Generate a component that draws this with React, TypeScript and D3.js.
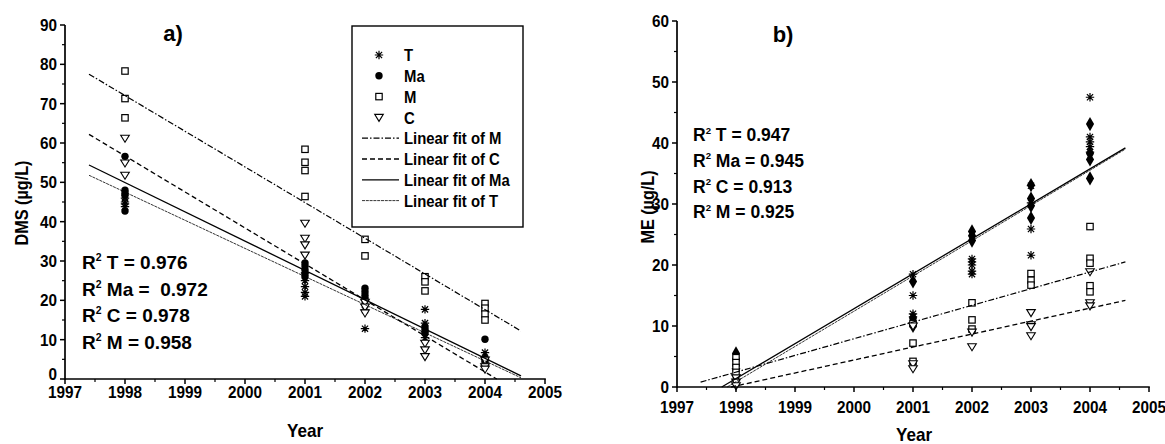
import React from "react";
import * as d3 from "d3";

// ---------- DATA ----------
const years = [1998, 2001, 2002, 2003, 2004];

// Panel a: DMS (µg/L), values per year (same order as `years`)
const dmsT = [[46, 45, 44.5, 43.8], [27, 25, 23.5, 22, 21], [20, 19, 17.5, 12.8], [17.7, 14.2, 12.0, 10.5], [6.7, 5, 4]];
const dmsMa = [[56.6, 48, 47.3, 46.7, 42.7], [29.5, 28.7, 27.8, 26.8, 26], [23.1, 22.2, 21.3, 20.5], [13.3, 12.5, 11.6], [10.1, 5.2, 4.5]];
const dmsM = [[78.3, 71.3, 66.4], [58.4, 55.1, 53.0, 46.4], [35.5, 31.3], [26.0, 24.7, 22.4], [19.2, 18.0, 16.5, 15.0]];
const dmsC = [[61.2, 54.9, 51.8], [39.6, 35.8, 34.1, 31.5], [19.5, 18.3, 16.8], [9.1, 7.4, 5.7], [4.8, 3.1, 2.5]];

// Panel b: ME (µg/L)
const meT = [[3.0, 2.0, 1.0], [18.5, 15.0, 12.0, 11.5], [21.0, 20.5, 20.0, 19.0, 18.5], [33.0, 30.2, 25.9, 21.6], [47.5, 41.0, 40.2, 39.4, 38.5]];
const meMa = [[5.5, 4.6, 3.6], [17.3, 11.3, 10.5, 10.0], [25.5, 24.8, 24.0], [33.1, 30.9, 29.7, 27.7], [43.1, 38.3, 37.3, 34.2]];
const meM = [[4.8, 4.0, 3.2, 2.4], [10.4, 7.2, 4.2], [13.8, 11.0, 9.5], [18.6, 17.5, 16.7], [26.3, 21.1, 20.3, 16.6, 15.6]];
const meC = [[1.5, 0.8, 0.2], [10.0, 3.8, 3.0], [9.0, 6.6], [12.2, 10.2, 9.9, 8.4], [18.9, 13.8, 13.3]];

// Linear fits: value at fitYears[0] and fitYears[1]
const fitYears = [1997.4, 2004.6];
const fitSeries = ["M", "C", "Ma", "T"];
const dmsFitStart = [77.5, 62.2, 54.4, 51.8];
const dmsFitEnd = [12.2, -3.7, 0.8, 0.3];
const meFitStart = [0.8, -1.1, -2.05, -2.6];
const meFitEnd = [20.5, 14.2, 39.2, 39.0];

const dmsR2 = ["R|T = 0.976", "R|Ma =  0.972", "R|C = 0.978", "R|M = 0.958"];
const meR2 = ["R|T = 0.947", "R|Ma = 0.945", "R|C = 0.913", "R|M = 0.925"];

const dmsTicks = [0, 10, 20, 30, 40, 50, 60, 70, 80, 90];
const meTicks = [0, 10, 20, 30, 40, 50, 60];
const yearTicks = [1997, 1998, 1999, 2000, 2001, 2002, 2003, 2004, 2005];

const legendItems = ["T", "Ma", "M", "C", "Linear fit of M", "Linear fit of C", "Linear fit of Ma", "Linear fit of T"];

// ---------- STYLE ----------
const FONT = "Arial, 'Liberation Sans', Helvetica, sans-serif";
const lineStyle: Record<string, { dash: string; width: number }> = {
  M: { dash: "6,2,1.5,2", width: 1.2 },
  C: { dash: "5,3", width: 1.3 },
  Ma: { dash: "", width: 1.3 },
  T: { dash: "3,0.8", width: 0.8 },
};

function Txt({ x, y, size, sx = 1, anchor = "start", rotate = 0, dy, children }: {
  x: number; y: number; size: number; sx?: number; anchor?: string; rotate?: number; dy?: string; children: React.ReactNode;
}) {
  return (
    <text
      transform={`translate(${x},${y})${rotate ? ` rotate(${rotate})` : ""} scale(${sx},1)`}
      textAnchor={anchor}
      dy={dy}
      fontFamily={FONT}
      fontWeight="bold"
      fontSize={size}
      style={{ whiteSpace: "pre" }}
    >
      {children}
    </text>
  );
}

function Marker({ kind, x, y, diamond }: { kind: string; x: number; y: number; diamond?: boolean }) {
  if (kind === "T") {
    const s = 4.2, d = 3.1;
    return (
      <path
        d={`M${x - s},${y}H${x + s}M${x},${y - s}V${y + s}M${x - d},${y - d}L${x + d},${y + d}M${x - d},${y + d}L${x + d},${y - d}`}
        stroke="#000"
        strokeWidth={1.2}
        fill="none"
      />
    );
  }
  if (kind === "Ma") {
    if (diamond) {
      const p = d3.symbol().type(d3.symbolDiamond).size(58)();
      return <path d={p || ""} transform={`translate(${x},${y})`} fill="#000" />;
    }
    return <circle cx={x} cy={y} r={3.7} fill="#000" />;
  }
  if (kind === "M") {
    return <rect x={x - 3.2} y={y - 3.2} width={6.4} height={6.4} fill="#fff" stroke="#000" strokeWidth={1.2} />;
  }
  // C: down triangle
  return (
    <path
      d={`M${x - 4.3},${y - 3}L${x + 4.3},${y - 3}L${x},${y + 4}Z`}
      fill="#fff"
      stroke="#000"
      strokeWidth={1.1}
    />
  );
}

type PanelProps = {
  x0: number; x1: number; y0: number; y1: number; ymax: number; yTicks: number[];
  series: { kind: string; data: number[][] }[];
  fitStart: number[]; fitEnd: number[];
  diamond: boolean; title: string; titleX: number; titleY: number;
  ylabel: string; ylabelX: number; ylabelY: number;
  xlabelX: number; xlabelY: number; xTickOffset: number; zeroShift: number;
  r2: string[]; r2X: number; r2Y: number; r2Step: number; r2Size: number;
};

function Panel(p: PanelProps) {
  const x = d3.scaleLinear().domain([1997, 2005]).range([p.x0, p.x1]);
  const y = d3.scaleLinear().domain([0, p.ymax]).range([p.y0, p.y1]);
  const minorX = d3.range(1997.5, 2005, 1);
  const minorY = d3.range(5, p.ymax, 10);

  const fits = fitSeries.map((s, i) => {
    let xa = fitYears[0], va = p.fitStart[i];
    let xb = fitYears[1], vb = p.fitEnd[i];
    const slope = (vb - va) / (xb - xa);
    if (va < 0) { xa = xa - va / slope; va = 0; }
    if (vb < 0) { xb = xb - vb / slope; vb = 0; }
    return { s, xa, va, xb, vb };
  });

  return (
    <g>
      {/* points */}
      {p.series.map((ser) =>
        ser.data.map((vals, yi) =>
          vals.map((v, k) => (
            <Marker key={`${ser.kind}-${yi}-${k}`} kind={ser.kind} x={x(years[yi])} y={y(v)} diamond={p.diamond} />
          ))
        )
      )}
      {/* fit lines */}
      {fits.map((f) => (
        <line
          key={f.s}
          x1={x(f.xa)} y1={y(f.va)} x2={x(f.xb)} y2={y(f.vb)}
          stroke="#000"
          strokeWidth={lineStyle[f.s].width}
          strokeDasharray={lineStyle[f.s].dash}
        />
      ))}
      {/* axes */}
      <line x1={p.x0} y1={p.y0} x2={p.x1 + 0.8} y2={p.y0} stroke="#000" strokeWidth={1.7} />
      <line x1={p.x0} y1={p.y0 + 0.8} x2={p.x0} y2={p.y1} stroke="#000" strokeWidth={1.7} />
      {yearTicks.map((t) => (
        <g key={t}>
          <line x1={x(t)} y1={p.y0} x2={x(t)} y2={p.y0 + 5} stroke="#000" strokeWidth={1.5} />
          <Txt x={x(t)} y={p.y0 + p.xTickOffset} size={17} sx={0.9} anchor="middle">{t}</Txt>
        </g>
      ))}
      {minorX.map((t) => (
        <line key={t} x1={x(t)} y1={p.y0} x2={x(t)} y2={p.y0 + 3} stroke="#000" strokeWidth={1.2} />
      ))}
      {p.yTicks.map((t) => (
        <g key={t}>
          <line x1={p.x0} y1={y(t)} x2={p.x0 - 5} y2={y(t)} stroke="#000" strokeWidth={1.5} />
          <Txt x={p.x0 - 8} y={y(t) - (t === 0 ? p.zeroShift : 0)} size={17} sx={0.9} anchor="end" dy="0.36em">{t}</Txt>
        </g>
      ))}
      {minorY.map((t) => (
        <line key={t} x1={p.x0} y1={y(t)} x2={p.x0 - 3} y2={y(t)} stroke="#000" strokeWidth={1.2} />
      ))}
      {/* labels */}
      <Txt x={p.xlabelX} y={p.xlabelY} size={18} sx={0.95} anchor="middle">Year</Txt>
      <Txt x={p.ylabelX} y={p.ylabelY} size={18} sx={0.9} anchor="middle" rotate={-90}>{p.ylabel}</Txt>
      <Txt x={p.titleX} y={p.titleY} size={22} anchor="middle">{p.title}</Txt>
      {p.r2.map((s, i) => {
        const [a, b] = s.split("|");
        return (
          <text key={i} x={p.r2X} y={p.r2Y + i * p.r2Step} fontFamily={FONT} fontWeight="bold" fontSize={p.r2Size} style={{ whiteSpace: "pre" }}>
            {a}
            <tspan fontSize={p.r2Size * 0.55} dy={-p.r2Size * 0.42}>2</tspan>
            <tspan dy={p.r2Size * 0.42}>{" " + b}</tspan>
          </text>
        );
      })}
    </g>
  );
}

function Legend() {
  const bx = 352, by = 26, bw = 171, bh = 201;
  const y0 = 55, step = 20.8;
  return (
    <g>
      <rect x={bx} y={by} width={bw} height={bh} fill="#fff" stroke="#000" strokeWidth={1.4} />
      {legendItems.map((lab, i) => {
        const yy = y0 + i * step;
        let sym: React.ReactNode;
        if (i < 4) {
          sym = <Marker kind={["T", "Ma", "M", "C"][i]} x={379} y={yy} />;
        } else {
          const s = fitSeries[i - 4];
          sym = <line x1={362} y1={yy} x2={399} y2={yy} stroke="#000" strokeWidth={lineStyle[s].width} strokeDasharray={lineStyle[s].dash} />;
        }
        return (
          <g key={lab}>
            {sym}
            <Txt x={404} y={yy} size={17} sx={0.875} dy="0.36em">{lab}</Txt>
          </g>
        );
      })}
    </g>
  );
}

export default function App() {
  return (
    <svg width={1165} height={444} style={{ position: "absolute", left: 0, top: 0, background: "#fff" }}>
      <rect width={1165} height={444} fill="#fff" />
      <Panel
        x0={65} x1={545} y0={379} y1={25} ymax={90} yTicks={dmsTicks}
        series={[{ kind: "T", data: dmsT }, { kind: "Ma", data: dmsMa }, { kind: "M", data: dmsM }, { kind: "C", data: dmsC }]}
        fitStart={dmsFitStart} fitEnd={dmsFitEnd} diamond={false}
        title="a)" titleX={173} titleY={41}
        ylabel="DMS (µg/L)" ylabelX={28} ylabelY={203}
        xlabelX={305} xlabelY={437} xTickOffset={19} zeroShift={5}
        r2={dmsR2} r2X={82} r2Y={269} r2Step={26.7} r2Size={19}
      />
      <Legend />
      <Panel
        x0={677} x1={1149} y0={387} y1={21} ymax={60} yTicks={meTicks}
        series={[{ kind: "T", data: meT }, { kind: "Ma", data: meMa }, { kind: "M", data: meM }, { kind: "C", data: meC }]}
        fitStart={meFitStart} fitEnd={meFitEnd} diamond={true}
        title="b)" titleX={783} titleY={42}
        ylabel="ME (µg/L)" ylabelX={654} ylabelY={207}
        xlabelX={914} xlabelY={441} xTickOffset={26} zeroShift={0}
        r2={meR2} r2X={693} r2Y={141} r2Step={25.8} r2Size={17.5}
      />
    </svg>
  );
}
